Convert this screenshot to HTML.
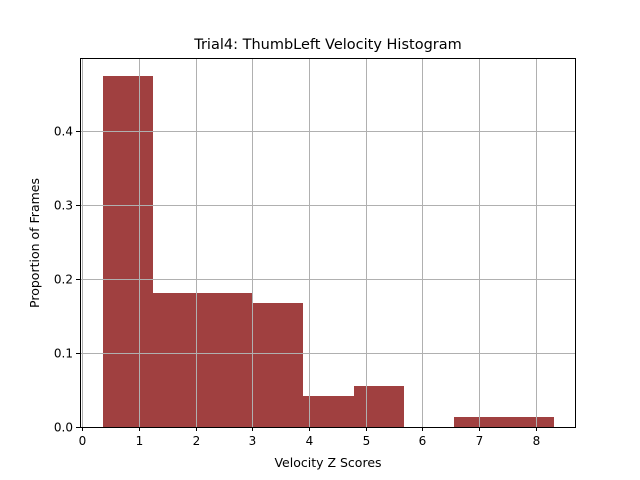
<!DOCTYPE html>
<html><head><meta charset="utf-8"><style>body{margin:0;background:#fff}svg{display:block}text{font-family:"DejaVu Sans","Liberation Sans",sans-serif}</style></head>
<body>
<svg id="c" width="640" height="480"></svg>
<script>
const binStart = 0.371;
const binWidth = 0.883;
const values = [0.475, 0.181, 0.181, 0.168, 0.042, 0.056, 0, 0.014, 0.014];
const xTicks = [0,1,2,3,4,5,6,7,8];
const yTicks = [0.0,0.1,0.2,0.3,0.4];
const yTickLabels = ["0.0","0.1","0.2","0.3","0.4"];
const L=80,R=576,T=58,B=427;
const x=v=>82.3+(v)*56.67;
const y=v=>427-v*740;
const svg=document.getElementById('c');
const NS='http://www.w3.org/2000/svg';
function mk(t,a,p){const e=document.createElementNS(NS,t);for(const k in a)e.setAttribute(k,a[k]);(p||svg).appendChild(e);return e;}
const bars=mk('g',{'shape-rendering':'crispEdges'});


values.forEach((v,i)=>{if(v<=0)return;const x0=Math.round(x(binStart+i*binWidth)),x1=Math.round(x(binStart+(i+1)*binWidth));
const r=mk('rect',{x:x0,y:Math.round(y(v)),width:x1-x0,height:B-Math.round(y(v)),fill:'#a04040'},bars);

});
const grid=mk('g',{stroke:'#b0b0b0','stroke-width':1});


xTicks.forEach(t=>{const X=Math.round(x(t))+0.5;mk('line',{x1:X,x2:X,y1:T,y2:B},grid);
const tk=mk('line',{x1:X,x2:X,y1:B,y2:B+4,stroke:'#000'});
const tl=mk('text',{x:X,y:B+18,'text-anchor':'middle','font-size':12});tl.textContent=t;

});
yTicks.forEach((t,i)=>{const Y=Math.round(y(t))+0.5;if(t>0)mk('line',{x1:L,x2:R,y1:Y,y2:Y},grid);
mk('line',{x1:L-4,x2:L,y1:Y,y2:Y,stroke:'#000'});
const tl=mk('text',{x:L-7,y:Y+4,'text-anchor':'end','font-size':12});tl.textContent=yTickLabels[i];

});
const fr=mk('rect',{x:L+0.5,y:T+0.5,width:R-L-1,height:B-T,fill:'none',stroke:'#000','stroke-width':1});


const ti=mk('text',{x:328,y:49,'text-anchor':'middle','font-size':14.5});ti.textContent='Trial4: ThumbLeft Velocity Histogram';


const xl=mk('text',{x:328,y:467,'text-anchor':'middle','font-size':12.5});xl.textContent='Velocity Z Scores';


const yl=mk('text',{x:0,y:0,'text-anchor':'middle','font-size':12.5,transform:'translate(39,243) rotate(-90)'});yl.textContent='Proportion of Frames';


</script>
</body></html>
